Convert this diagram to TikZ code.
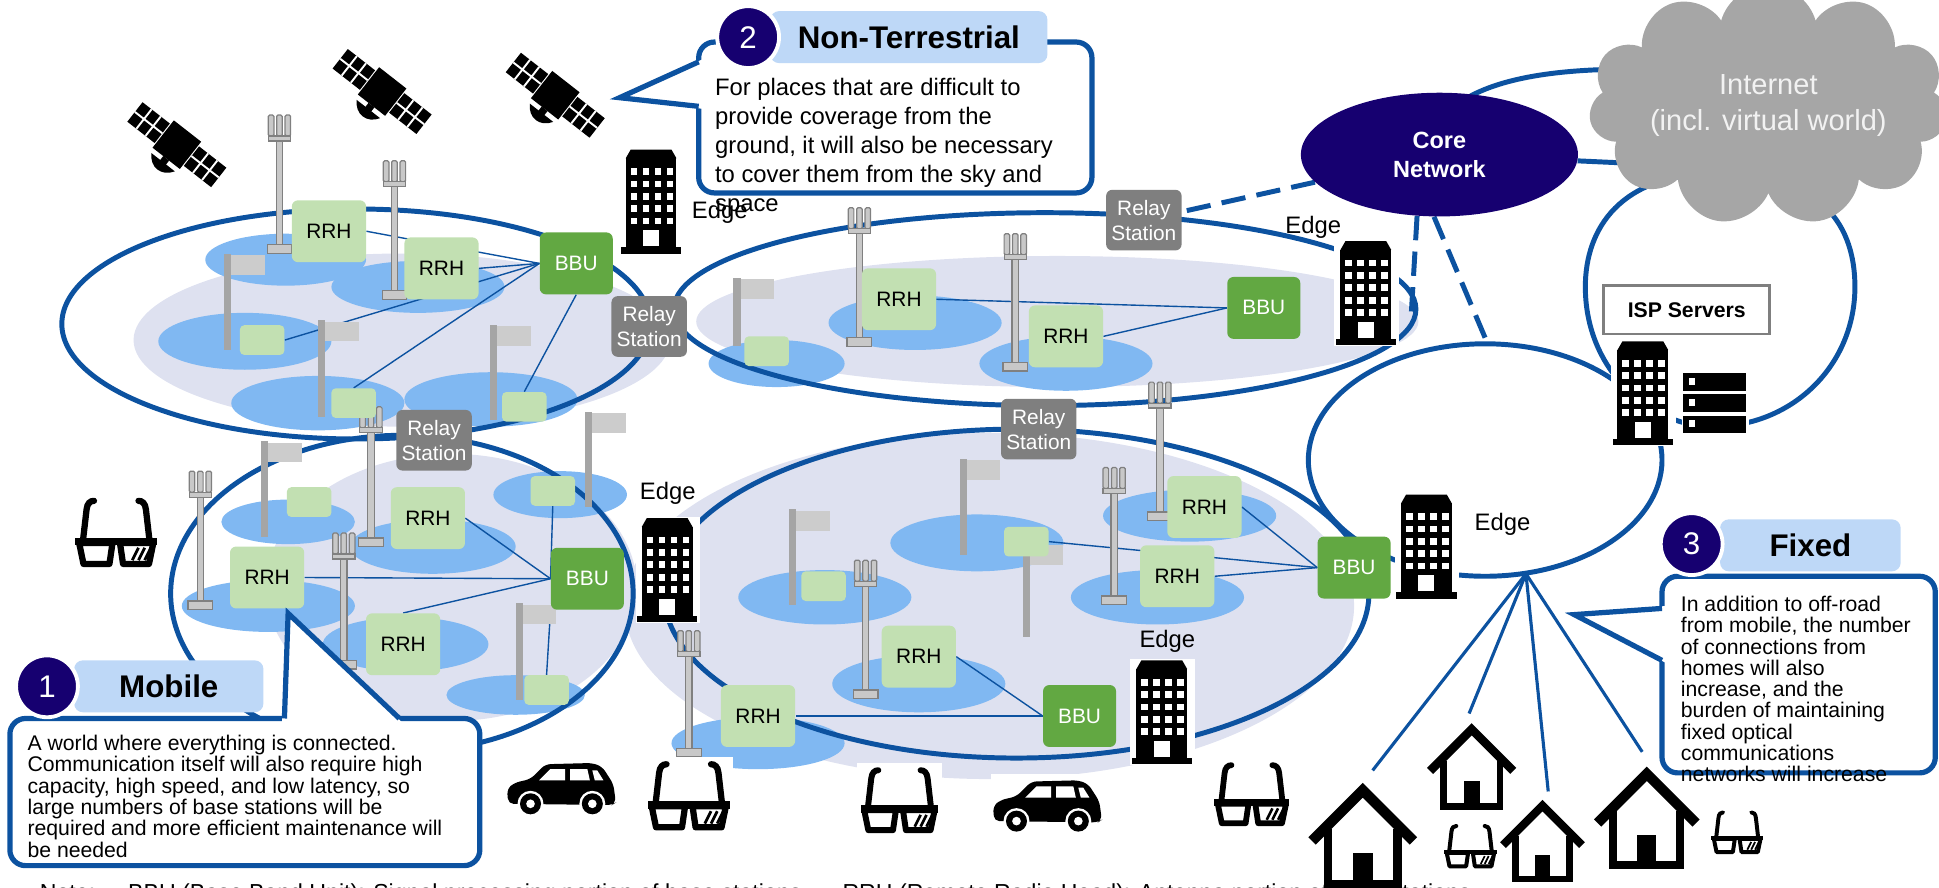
\documentclass[tikz,border=0pt]{standalone}
\usepackage{fontspec}
\setmainfont{Liberation Sans}
\usetikzlibrary{shapes.geometric,shapes.symbols}

\definecolor{lineblue}{RGB}{12,82,160}
\definecolor{navy}{RGB}{22,0,112}
\definecolor{tagblue}{RGB}{190,216,247}
\definecolor{zonelav}{RGB}{222,225,240}
\definecolor{cellblue}{RGB}{128,184,242}
\definecolor{rrhgreen}{RGB}{194,224,178}
\definecolor{bbugreen}{RGB}{98,168,66}
\definecolor{relaygray}{RGB}{127,127,127}
\definecolor{cloudgray}{RGB}{166,166,166}
\definecolor{cloudtext}{RGB}{242,242,242}
\definecolor{antfill}{RGB}{200,200,200}
\definecolor{antline}{RGB}{128,128,128}
\definecolor{polegray}{RGB}{165,165,165}
\definecolor{flaggray}{RGB}{204,204,204}

\pgfdeclarelayer{back}
\pgfdeclarelayer{links}
\pgfsetlayers{back,links,main}

\newcommand{\setfs}[2]{\fontsize{#1}{#2}\selectfont}

\tikzset{
    zone/.style={fill=zonelav},
    ring/.style={draw=lineblue, line width=2.85pt},
    trunk/.style={draw=lineblue, line width=2.85pt, dash pattern=on 14pt off 6.5pt},
    link/.style={draw=lineblue, line width=0.8pt},
    fanline/.style={draw=lineblue, line width=1.8pt},
    rrh/.style={fill=rrhgreen, rounded corners=3.5pt, minimum width=1.5cm, minimum height=1.25cm, inner sep=0pt, font={\setfs{12}{14}}},
    rrhs/.style={fill=rrhgreen, rounded corners=2.5pt, minimum width=0.9cm, minimum height=0.6cm, inner sep=0pt},
    bbu/.style={fill=bbugreen, text=white, rounded corners=3.5pt, minimum width=1.475cm, minimum height=1.25cm, inner sep=0pt, font={\setfs{12}{14}}},
    relay/.style={fill=relaygray, text=white, rounded corners=3.5pt, minimum width=1.525cm, minimum height=1.225cm, inner sep=0pt, align=center, font={\setfs{12}{14.4}}},
    edgelabel/.style={inner sep=0pt, font={\setfs{13.7}{16}}},
    callout/.style={fill=white, draw=lineblue, line width=3pt, rounded corners=9pt},
    calloutline/.style={draw=lineblue, line width=3pt},
    tag/.style={fill=tagblue, rounded corners=5pt, minimum height=1.05cm, inner sep=0pt, font={\bfseries\setfs{18}{20}}},
    num/.style={circle, fill=navy, draw=white, line width=2.2pt, minimum size=1.25cm, inner sep=0pt, text=white, font={\setfs{18}{20}}},
    calltext/.style={anchor=north west, inner sep=0pt, align=left}
}

% coverage of one cell
\newcommand{\coverage}[4]{
    \fill[cellblue] (#1,#2) ellipse [x radius=#3, y radius=#4];
}
% antenna tower: x, top, base
\newcommand{\iconAntenna}[3]{
    \begin{scope}[shift={(#1,#2)}, fill=antfill, draw=antline, line width=0.7pt]
        \filldraw (-2.6,20) rectangle (2.6,#3-#2-5);
        \foreach \ax in {-9,-2.25,4.5}
            \filldraw[rounded corners=0.8pt] (\ax,0) rectangle ++(4.5,17);
        \filldraw (-9,17) rectangle (9,21);
        \filldraw (-10,#3-#2-7) rectangle (10,#3-#2);
    \end{scope}
}
% flag pole: x, top, base
\newcommand{\iconFlag}[3]{
    \fill[polegray] (#1-3,#2) rectangle (#1+3,#3);
    \fill[flaggray] (#1+3,#2+1) rectangle (#1+30,#2+17);
}
% office building on a white plate, top left corner
\newcommand{\iconBuilding}[2]{
    \begin{scope}[shift={(#1,#2)}]
        \fill[white] (-1,-1) rectangle (51,85);
        \fill (8,0) -- (41,0) -- (45,7) -- (4,7) -- cycle;
        \fill (4,7) rectangle (45,79);
        \fill (0,79) rectangle (49,84);
        \foreach \cx in {0,...,3}
            \foreach \cy in {0,...,4}
                \fill[white] (8+\cx*9.7,15+\cy*10) rectangle ++(5.4,5.5);
        \fill[white] (18,65) rectangle (31,78);
    \end{scope}
}
% rack of servers
\newcommand{\iconServer}[2]{
    \begin{scope}[shift={(#1,#2)}]
        \fill[white] (-1,-1) rectangle (53,50);
        \foreach \sy in {0,17,34} {
            \fill (0,\sy) rectangle (51,\sy+14);
            \fill[white] (5,\sy+4) rectangle (10,\sy+9);
        }
    \end{scope}
}
% AR glasses: top left, scale
\newcommand{\iconGlasses}[3]{
    \begin{scope}[shift={(#1,#2)}, scale=#3]
        \fill[white] (-3,-3) rectangle (69,59);
        \draw[line width=#3*3.6pt, line cap=round] (6,36) -- (9,10) .. controls (9.5,5) and (12,3) .. (15,3);
        \draw[line width=#3*3.6pt, line cap=round] (60,36) -- (57,10) .. controls (56.5,5) and (54,3) .. (51,3);
        \fill (0,33) rectangle (66,39);
        \draw[line width=#3*3.6pt, line join=round, fill=white] (3,37) -- (30,37) -- (27.5,54) -- (6.5,54) -- cycle;
        \draw[line width=#3*3.6pt, line join=round, fill=white] (36,37) -- (63,37) -- (59.5,54) -- (38.5,54) -- cycle;
        \foreach \hx in {46,51,56}
            \draw[line width=#3*1.6pt] (\hx,51) -- (\hx+5,41);
    \end{scope}
}
% car seen from the side
\newcommand{\iconCar}[2]{
    \begin{scope}[shift={(#1,#2)}]
        \fill[white] (-2,-2) rectangle (90,48);
        \fill[rounded corners=3pt] (1,36) -- (0,24) -- (6,19) -- (19,16) -- (31,4) -- (69,3) -- (77,6) -- (86,20) -- (88,35) -- (85,37) -- cycle;
        \fill[white] (35,8) -- (47,8) -- (47,17) -- (26,17) -- cycle;
        \fill[white] (51,8) -- (65,8) -- (67,17) -- (51,17) -- cycle;
        \fill[white] (69,9) -- (73,9) -- (78,17) -- (71,17) -- cycle;
        \foreach \wx in {19,69} {
            \fill[white] (\wx,36) circle (10.5);
            \fill (\wx,36) circle (8.5);
            \fill[white] (\wx,36) circle (3.5);
        }
    \end{scope}
}
% house outline: top left, scale
\newcommand{\iconHouse}[3]{
    \begin{scope}[shift={(#1,#2)}, scale=#3]
        \fill[white] (4,46) -- (44,6) -- (84,46) -- (72,46) -- (72,86) -- (16,86) -- (16,46) -- cycle;
        \draw[line width=#3*6pt, line join=miter] (3,48) -- (44,7) -- (85,48);
        \draw[line width=#3*4.8pt, line join=miter] (16,38) -- (16,83) -- (72,83) -- (72,38);
        \fill (36,58) rectangle (52,83);
    \end{scope}
}
% satellite with two panels
\newcommand{\iconSat}[2]{
    \begin{scope}[shift={(#1,#2)}, rotate=-38]
        \fill (-43,-10) rectangle (-15,10);
        \fill (15,-10) rectangle (43,10);
        \fill (-14,-14) rectangle (14,14);
        \draw[white, line width=1.1pt] (-33.7,-10) -- (-33.7,10) (-24.3,-10) -- (-24.3,10) (-43,0) -- (-15,0)
            (24.3,-10) -- (24.3,10) (33.7,-10) -- (33.7,10) (15,0) -- (43,0);
        \fill (-3,14) rectangle (3,19);
        \fill (-12,18) .. controls (-6,28) and (6,28) .. (12,18) -- cycle;
    \end{scope}
}

\begin{document}
\begin{tikzpicture}[x=0.025cm, y=-0.025cm]
    \useasboundingbox (0,0) rectangle (1568,718);

    \begin{pgfonlayer}{back}
        % service areas
        \fill[zone] (325,275) ellipse [x radius=217, y radius=70];
        \fill[zone] (855,260) ellipse [x radius=292, y radius=53];
        \fill[zone] (365,475) ellipse [x radius=150, y radius=108];
        \fill[zone] (800,490) ellipse [x radius=295, y radius=140];

        % cells, upper left
        \coverage{231}{210}{65}{21}
        \coverage{338}{232}{70}{21}
        \coverage{198}{276}{70}{23}
        \coverage{257}{326}{70}{22}
        \coverage{397}{323}{70}{22}
        % cells, upper middle
        \coverage{628}{294}{55}{19}
        \coverage{740}{261}{70}{22}
        \coverage{862}{294}{70}{22}
        % cells, lower left
        \coverage{233}{422}{54}{18}
        \coverage{217}{490}{70}{21}
        \coverage{350}{442}{67}{22}
        \coverage{453}{400}{54}{19}
        \coverage{328}{521}{67}{22}
        \coverage{417}{562}{56}{16}
        % cells, lower middle
        \coverage{790}{439}{70}{23}
        \coverage{667}{483}{70}{22}
        \coverage{962}{417}{70}{21}
        \coverage{936}{483}{70}{22}
        \coverage{743}{553}{70}{23}
        \coverage{613}{601}{70}{21}

        % network rings
        \draw[ring] (288,262) ellipse [x radius=238, y radius=93];
        \draw[ring] (845,250) ellipse [x radius=300, y radius=78];
        \draw[ring] (325,480) ellipse [x radius=187, y radius=128];
        \draw[ring] (822,480) ellipse [x radius=285, y radius=133];
        \draw[ring] (1201,372) ellipse [x radius=143, y radius=94];
        \draw[ring] (1390,140) .. controls (1310,140) and (1282,185) .. (1282,232)
            .. controls (1282,300) and (1335,345) .. (1385,345)
            .. controls (1450,345) and (1500,295) .. (1500,232)
            .. controls (1500,175) and (1465,140) .. (1390,140) -- cycle;
    \end{pgfonlayer}

    % towers and poles
    \iconAntenna{226}{93}{205}
    \iconAntenna{319}{130}{242}
    \iconAntenna{695}{168}{280}
    \iconAntenna{821}{189}{300}
    \iconAntenna{162}{381}{493}
    \iconAntenna{300}{329}{442}
    \iconAntenna{278}{431}{541}
    \iconAntenna{938}{309}{421}
    \iconAntenna{901}{378}{489}
    \iconAntenna{700}{453}{565}
    \iconAntenna{557}{510}{612}
    \iconFlag{184}{205}{283}
    \iconFlag{260}{259}{337}
    \iconFlag{399}{263}{340}
    \iconFlag{596}{225}{280}
    \iconFlag{214}{357}{434}
    \iconFlag{476}{333}{410}
    \iconFlag{420}{488}{566}
    \iconFlag{779}{371}{449}
    \iconFlag{641}{412}{489}
    \iconFlag{830}{440}{515}

    % upper left area
    \node[rrh] (rrhA1) at (266,187) {RRH};
    \node[rrh] (rrhA2) at (357,217) {RRH};
    \node[bbu] (bbuA) at (466,213) {BBU};
    \node[rrhs] (rrhA3) at (212,275) {};
    \node[rrhs] (rrhA4) at (286,326) {};
    \node[rrhs] (rrhA5) at (424,329) {};

    % upper middle area
    \node[rrh] (rrhB1) at (727,242) {RRH};
    \node[rrh] (rrhB2) at (862,272) {RRH};
    \node[bbu] (bbuB) at (1022,249) {BBU};
    \node[rrhs] (rrhB3) at (620,284) {};

    % lower left area
    \node[rrh] (rrhC1) at (216,467) {RRH};
    \node[rrh] (rrhC2) at (346,419) {RRH};
    \node[rrh] (rrhC3) at (326,521) {RRH};
    \node[bbu] (bbuC) at (475,468) {BBU};
    \node[rrhs] (rrhC4) at (250,406) {};
    \node[rrhs] (rrhC5) at (447,397) {};
    \node[rrhs] (rrhC6) at (442,558) {};

    % lower middle area
    \node[rrh] (rrhD1) at (974,410) {RRH};
    \node[rrh] (rrhD2) at (952,466) {RRH};
    \node[rrh] (rrhD3) at (743,531) {RRH};
    \node[rrh] (rrhD4) at (613,579) {RRH};
    \node[bbu] (bbuD1) at (1095,459) {BBU};
    \node[bbu] (bbuD2) at (873,579) {BBU};
    \node[rrhs] (rrhD5) at (830,438) {};
    \node[rrhs] (rrhD6) at (666,474) {};

    % relay stations
    \node[relay] (relayAB) at (525,264) {Relay\\Station};
    \node[relay] (relayB) at (925,178) {Relay\\Station};
    \node[relay] (relayAC) at (351,356) {Relay\\Station};
    \node[relay] (relayD) at (840,347) {Relay\\Station};

    % core side
    \node[ellipse, fill=navy, text=white, minimum width=5.6cm, minimum height=2.5cm, inner sep=0pt,
        align=center, font={\bfseries\setfs{13.5}{16.6}}] (core) at (1164,125) {Core\\Network};
    \node[cloud, cloud puffs=11, aspect=1.9, fill=cloudgray, text=cloudtext, minimum width=6.9cm,
        minimum height=3.7cm, inner sep=0pt, align=center, font={\setfs{16.7}{20.6}}] (inet) at (1430,85)
        {Internet\\(incl. virtual world)};
    \node[draw=relaygray, line width=1.6pt, fill=white, minimum width=3.35cm, minimum height=0.975cm,
        inner sep=0pt, font={\bfseries\setfs{12.2}{14}}] (isp) at (1364,250.5) {ISP Servers};

    \begin{pgfonlayer}{links}
        \draw[link] (bbuA.west) -- (rrhA1.east);
        \draw[link] (bbuA.west) -- (rrhA2.east);
        \draw[link] (bbuA.west) -- (rrhA3.east);
        \draw[link] (bbuA.west) -- (rrhA4.north);
        \draw[link] (bbuA.south) -- (rrhA5.north);
        \draw[link] (bbuB.west) -- (rrhB1.east);
        \draw[link] (bbuB.west) -- (rrhB2.east);
        \draw[link] (bbuC.west) -- (rrhC1.east);
        \draw[link] (bbuC.west) -- (rrhC2.east);
        \draw[link] (bbuC.west) -- (rrhC3.north);
        \draw[link] (bbuC.west) -- (rrhC5.south);
        \draw[link] (bbuC.south west) -- (rrhC6.north);
        \draw[link] (bbuD1.west) -- (rrhD1.east);
        \draw[link] (bbuD1.west) -- (rrhD2.east);
        \draw[link] (bbuD1.west) -- (rrhD5.east);
        \draw[link] (bbuD2.west) -- (rrhD3.east);
        \draw[link] (bbuD2.west) -- (rrhD4.east);

        % backhaul to the core
        \coordinate (bEnd) at (1141,258);
        \coordinate (fTop) at (1203,278);
        \draw[trunk] (core) -- (relayB);
        \draw[trunk] (core.250) -- (bEnd);
        \draw[trunk] (core.265) -- (fTop);
        \coordinate (inetIn) at (1340,133);
        \draw[ring] (core) -- (inetIn);
        \draw[ring] (1185,80) .. controls (1215,62) and (1265,55) .. (1330,56);

        % fixed lines to homes
        \coordinate (fan) at (1234,464);
        \coordinate (home1) at (1110,623);
        \coordinate (home2) at (1188,577);
        \coordinate (home3) at (1252,640);
        \coordinate (home4) at (1328,608);
        \foreach \h in {home1,home2,home3,home4}
            \draw[fanline] (fan) -- (\h);
    \end{pgfonlayer}

    % edge sites
    \iconBuilding{502}{121}
    \iconBuilding{1080}{195}
    \iconBuilding{515}{419}
    \iconBuilding{915}{534}
    \iconBuilding{1129}{400}
    \iconBuilding{1304}{276}
    \iconServer{1361}{302}
    \node[edgelabel] (edgeA) at (582,172) {Edge};
    \node[edgelabel] (edgeB) at (1062,184) {Edge};
    \node[edgelabel] (edgeC) at (540,399) {Edge};
    \node[edgelabel] (edgeD) at (944,519) {Edge};
    \node[edgelabel] (edgeF) at (1215,424) {Edge};

    % users
    \iconSat{143}{117}
    \iconSat{309}{74}
    \iconSat{449}{77}
    \iconGlasses{61}{402}{1}
    \iconGlasses{524}{615}{1}
    \iconGlasses{696}{620}{0.95}
    \iconGlasses{982}{616}{0.92}
    \iconGlasses{1168}{666}{0.64}
    \iconGlasses{1384}{655}{0.63}
    \iconCar{410}{614}
    \iconCar{803}{628}
    \iconHouse{1058}{632}{1}
    \iconHouse{1154}{584}{0.82}
    \iconHouse{1213}{646}{0.78}
    \iconHouse{1289}{619}{0.97}

    % 1 Mobile
    \path[callout] (8,581) rectangle (388,700);
    \fill[white] (228,585) -- (233,496) -- (326,585) -- cycle;
    \draw[calloutline] (230,581) -- (233,496) -- (323,581);
    \node[tag, minimum width=3.825cm] (mobileTag) at (136.5,555) {Mobile};
    \node[num] (mobileNum) at (38,555) {1};
    \node[calltext, font={\setfs{12.2}{12.3}}] (mobileText) at (22,594) {A world where everything is connected.\\
        Communication itself will also require high\\capacity, high speed, and low latency, so\\
        large numbers of base stations will be\\required and more efficient maintenance will\\be needed};

    % 2 Non-Terrestrial
    \path[callout] (565,34) rectangle (883,156);
    \fill[white] (568,48) -- (501,79) -- (568,88) -- cycle;
    \draw[calloutline] (565,50) -- (501,79) -- (565,86);
    \node[tag, minimum width=5.6cm] (ntnTag) at (735,30) {Non-Terrestrial};
    \node[num] (ntnNum) at (605,30) {2};
    \node[calltext, font={\setfs{13.7}{16.7}}] (ntnText) at (578,63) {For places that are difficult to\\
        provide coverage from the\\ground, it will also be necessary\\to cover them from the sky and\\space};

    % 3 Fixed
    \path[callout] (1344,466) rectangle (1565,625);
    \fill[white] (1347,490) -- (1273,497) -- (1347,536) -- cycle;
    \draw[calloutline] (1344,492) -- (1273,497) -- (1344,534);
    \node[tag, minimum width=3.65cm] (fixedTag) at (1464,441) {Fixed};
    \node[num] (fixedNum) at (1368,440) {3};
    \node[calltext, font={\setfs{12.2}{12.2}}] (fixedText) at (1359,482) {In addition to off-road\\
        from mobile, the number\\of connections from\\homes will also\\increase, and the\\
        burden of maintaining\\fixed optical\\communications\\networks will increase};

    % footnote, only its upper edge falls on the page
    \node[anchor=base west, inner sep=0pt, font={\setfs{13.3}{16}}] (note) at (32,728)
        {Note:\hspace{19pt}BBU (Base Band Unit): Signal processing portion of base stations,\hspace{20pt}RRH (Remote Radio Head): Antenna portion of base stations};
\end{tikzpicture}
\end{document}
